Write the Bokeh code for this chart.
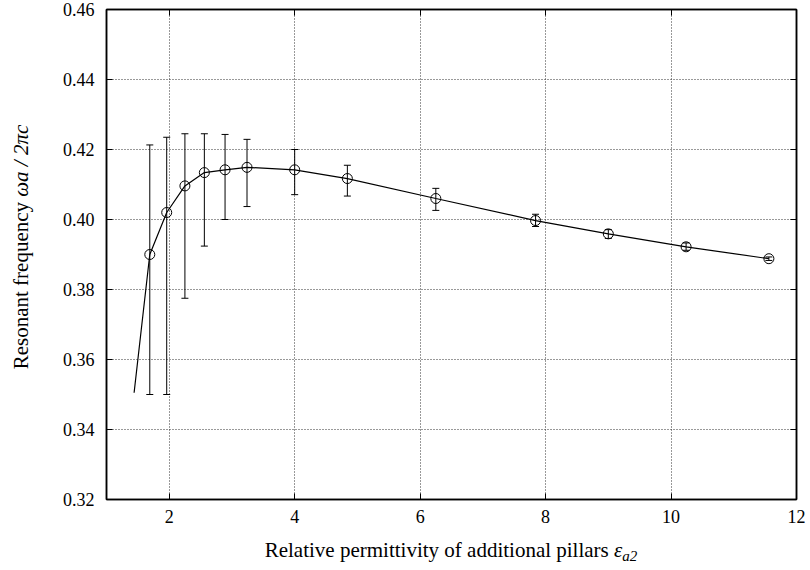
from bokeh.plotting import figure
from bokeh.layouts import row, column
from bokeh.models import (ColumnDataSource, Whisker, TeeHead, LinearAxis, Div,
                          Range1d, FixedTicker, CustomJSTickFormatter)
from bokeh.embed import file_html
from bokeh.resources import INLINE

# ---- data ----
eps = [1.69, 1.96, 2.25, 2.56, 2.89, 3.24, 4.00, 4.84, 6.25, 7.84, 9.00, 10.24, 11.56]
freq = [0.3900, 0.4020, 0.4096, 0.4134, 0.4142, 0.4149, 0.4142, 0.4117, 0.4060, 0.3997, 0.3959, 0.3922, 0.3888]
freq_upper = [0.4213, 0.4235, 0.4245, 0.4245, 0.4243, 0.4229, 0.4200, 0.4155, 0.4089, 0.4015, 0.3971, 0.3933, 0.3893]
freq_lower = [0.3500, 0.3500, 0.3775, 0.3924, 0.4000, 0.4037, 0.4071, 0.4067, 0.4026, 0.3980, 0.3946, 0.3912, 0.3883]
curve_start_eps = [1.44]
curve_start_freq = [0.3505]
x_ticks = [2, 4, 6, 8, 10, 12]
y_ticks = [0.32, 0.34, 0.36, 0.38, 0.40, 0.42, 0.44, 0.46]

FONT = "Liberation Serif"
YDIV_W = 40
XDIV_H = 30

p = figure(width=810 - YDIV_W, height=570 - XDIV_H, output_backend="svg",
           toolbar_location=None, margin=0,
           x_range=Range1d(1, 12), y_range=Range1d(0.32, 0.46),
           min_border_left=106 - YDIV_W, min_border_right=14, min_border_top=9,
           min_border_bottom=71 - XDIV_H, background_fill_color="white",
           border_fill_color="white")

p.outline_line_color = "black"
p.outline_line_width = 1.5

p.xaxis.ticker = FixedTicker(ticks=x_ticks)
p.yaxis.ticker = FixedTicker(ticks=y_ticks)
p.axis.major_tick_in = 6
p.axis.major_tick_out = 0
p.axis.minor_tick_line_color = None
p.axis.axis_line_width = 1.5
p.axis.major_label_text_font = FONT
p.axis.major_label_text_font_size = "18px"
p.axis.major_label_text_color = "black"
p.xaxis.major_label_standoff = 10
p.yaxis.major_label_standoff = 12
p.yaxis.formatter = CustomJSTickFormatter(code="return tick.toFixed(2);")

rax = LinearAxis(ticker=FixedTicker(ticks=y_ticks))
tax = LinearAxis(ticker=FixedTicker(ticks=x_ticks))
for ax in (rax, tax):
    ax.major_tick_in = 6
    ax.major_tick_out = 0
    ax.minor_tick_line_color = None
    ax.axis_line_width = 1.5
    ax.major_label_text_font_size = "0px"
    ax.major_label_standoff = 0
    ax.major_label_text_color = None
p.add_layout(rax, "right")
p.add_layout(tax, "above")

p.xgrid.ticker = FixedTicker(ticks=x_ticks[:-1])
p.ygrid.ticker = FixedTicker(ticks=y_ticks[1:-1])
p.grid.grid_line_color = "#333333"
p.grid.grid_line_dash = "1 2"
p.grid.grid_line_width = 1

p.line(curve_start_eps + eps, curve_start_freq + freq, line_color="black", line_width=1.2)

src = ColumnDataSource(dict(x=eps, y=freq, upper=freq_upper, lower=freq_lower))
wh = Whisker(source=src, base="x", upper="upper", lower="lower", dimension="height",
             line_color="black", line_width=1,
             upper_head=TeeHead(size=7, line_color="black", line_width=1),
             lower_head=TeeHead(size=7, line_color="black", line_width=1))
p.add_layout(wh)

p.scatter("x", "y", source=src, marker="circle", size=10, fill_color=None,
          line_color="black", line_width=1)

base_style = {"font-family": "'Liberation Serif', serif", "font-size": "21px",
              "color": "black", "white-space": "nowrap"}

ytitle = Div(width=YDIV_W, height=570 - XDIV_H, margin=0, styles=dict(base_style),
             text=('<div style="position:absolute; left:21px; top:247px; '
                   'transform:translate(-50%,-50%) rotate(-90deg); white-space:nowrap; '
                   "font-family:'Liberation Serif',serif; font-size:21px; line-height:22px;\">"
                   'Resonant frequency <i>\u03c9a</i> <i>/</i> <i>2\u03c0c</i></div>'))

xtitle = Div(width=810, height=XDIV_H, margin=0, styles=dict(base_style),
             text=('<div style="position:absolute; left:451px; top:13px; '
                   'transform:translate(-50%,-50%); white-space:nowrap; '
                   "font-family:'Liberation Serif',serif; font-size:21px; line-height:22px;\">"
                   'Relative permittivity of additional pillars '
                   '<i>\u03b5<sub style="font-size:15px; vertical-align:-4px;">a2</sub></i></div>'))

layout = column(row(ytitle, p, spacing=0, margin=0), xtitle, spacing=0, margin=0)

open("out.html", "w").write(file_html(layout, INLINE))
